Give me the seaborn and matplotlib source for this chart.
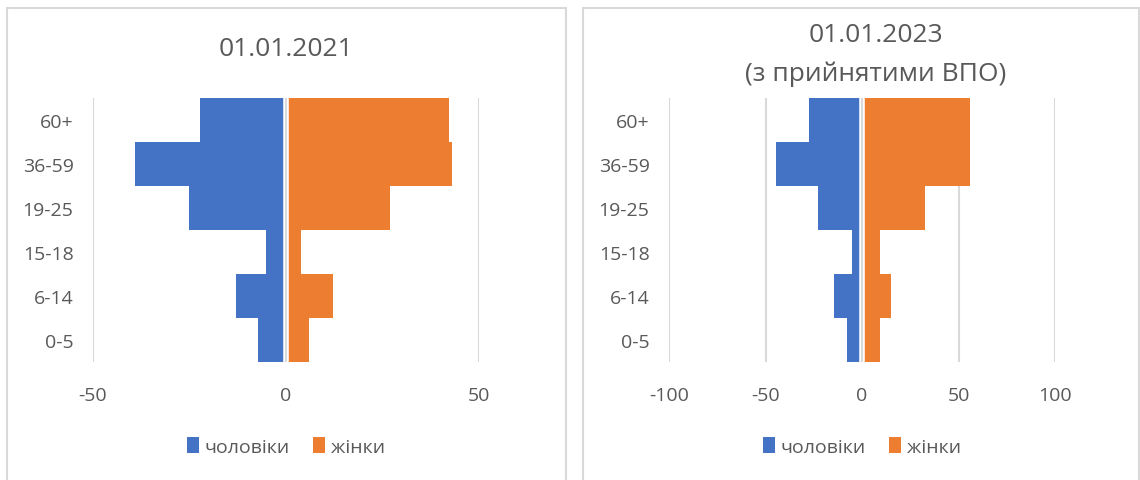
import matplotlib
matplotlib.use("Agg")
import matplotlib.pyplot as plt
from matplotlib.patches import Rectangle
import seaborn as sns

# Data

age_groups = ["60+", "36-59", "19-25", "15-18", "6-14", "0-5"]

men_2021 = [22.2, 39.0, 25.2, 5.1, 13.0, 7.2]
women_2021 = [42.1, 43.0, 27.0, 3.8, 12.1, 6.0]

men_2023 = [27.7, 44.8, 22.8, 5.4, 14.7, 8.0]
women_2023 = [56.1, 56.1, 32.7, 9.2, 15.1, 9.2]

titles = ["01.01.2021", "01.01.2023\n(з прийнятими ВПО)"]
x_ticks = [[-50, 0, 50], [-100, -50, 0, 50, 100]]
legend_labels = ["чоловіки", "жінки"]

# Style

sns.set_theme(style="white")
plt.rcParams["font.family"] = ["Open Sans", "DejaVu Sans"]

blue = "#4472C4"
orange = "#ED7D31"
grey_text = "#595959"
grid_grey = "#D9D9D9"

fig = plt.figure(figsize=(11.4, 4.81), dpi=100)

# panel frames (bottom edge runs off the picture)
for x0, x1 in [(7, 566), (583, 1139)]:
    fig.patches.append(Rectangle(
        (x0 / 1140, -10 / 481), (x1 - x0) / 1140, 482 / 481,
        transform=fig.transFigure, fill=False,
        edgecolor=grid_grey, linewidth=1.5
    ))

axes = [
    fig.add_axes([93 / 1140, 1 - 363 / 481, 386 / 1140, 264 / 481]),
    fig.add_axes([669 / 1140, 1 - 363 / 481, 386 / 1140, 264 / 481]),
]

panels = [(men_2021, women_2021), (men_2023, women_2023)]

for i, ax in enumerate(axes):
    men, women = panels[i]
    sns.barplot(x=[-v for v in men], y=age_groups, color=blue,
                width=1, saturation=1, orient="h", ax=ax,
                label=legend_labels[0], zorder=2, linewidth=0)
    sns.barplot(x=women, y=age_groups, color=orange,
                width=1, saturation=1, orient="h", ax=ax,
                label=legend_labels[1], zorder=2, linewidth=0)

    ticks = x_ticks[i]
    ax.set_xlim(ticks[0], ticks[-1])
    ax.set_ylim(5.5, -0.5)
    ax.set_xticks(ticks)
    ax.set_xticklabels([str(t) for t in ticks])
    for t in ticks:
        if t != 0:
            ax.axvline(t, color=grid_grey, linewidth=1.5, zorder=0)
    ax.axvline(0, color="white", linewidth=4, zorder=3)
    ax.axvline(0, color=grid_grey, linewidth=1.5, zorder=4)

    for s in ax.spines.values():
        s.set_visible(False)
    ax.set_xlabel("")
    ax.set_ylabel("")
    ax.tick_params(axis="x", length=0, pad=17, labelsize=14, labelcolor=grey_text)
    ax.tick_params(axis="y", length=0, pad=14, labelsize=14, labelcolor=grey_text)

    ax.legend(loc="center", bbox_to_anchor=(0.5, -0.32), ncol=2,
              frameon=False, fontsize=14, labelcolor=grey_text,
              handlelength=0.6, handleheight=0.9, handletextpad=0.3,
              columnspacing=1.2)

fig.text(286 / 1140, 1 - 50 / 481, titles[0], ha="center", va="center",
         fontsize=19, color=grey_text)
fig.text(876 / 1140, 1 - 55 / 481, titles[1], ha="center", va="center",
         fontsize=19, color=grey_text, linespacing=1.7)

fig.savefig("out.png", dpi=100)
